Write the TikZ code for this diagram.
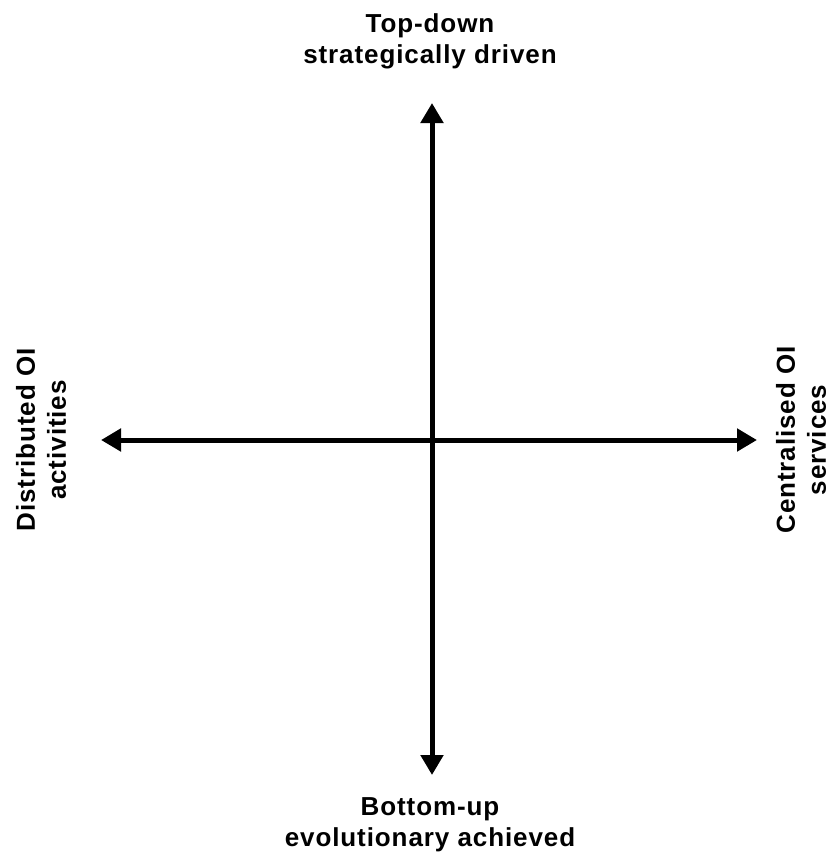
\documentclass[tikz,border=0pt]{standalone}
\usepackage{fontspec}
\usetikzlibrary{arrows.meta}
\newfontfamily\axisfont{Liberation Sans}[LetterSpace=3.5]
\begin{document}
\begin{tikzpicture}[x=1pt,y=1pt,
  axis/.style={line width=5pt,{Triangle[length=20pt,width=22pt]}-{Triangle[length=20pt,width=22pt]}},
  polelabel/.style={font=\axisfont\bfseries\fontsize{26}{31}\selectfont,align=center,inner sep=0pt,text=black}]
  \useasboundingbox (0,0) rectangle (831,-852);
  % axis end points
  \coordinate (north) at (432,-103);
  \coordinate (south) at (432,-775);
  \coordinate (west) at (101,-440);
  \coordinate (east) at (757,-440);
  % the two axes
  \draw[axis] (west) -- (east);
  \draw[axis] (south) -- (north);
  % pole labels
  \node[polelabel] (toplabel) at (430,-41) {Top-down\\strategically driven};
  \node[polelabel] (bottomlabel) at (430,-825) {Bottom-up\\evolutionary achieved};
  \node[polelabel,rotate=90] (leftlabel) at (41,-440) {Distributed OI\\activities};
  \node[polelabel,rotate=90] (rightlabel) at (801,-440) {Centralised OI\\services};
\end{tikzpicture}
\end{document}
